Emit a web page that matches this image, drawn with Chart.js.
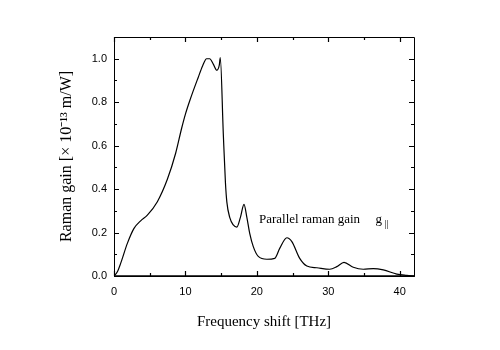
<!DOCTYPE html>
<html><head><meta charset="utf-8">
<script src="https://cdn.jsdelivr.net/npm/chart.js@4"></script>
<style>html,body{margin:0;padding:0;background:#fff}#wrap{width:500px;height:350px}</style>
</head><body><div id="wrap"><canvas id="c" width="500" height="350"></canvas></div>
<script>
const freqTHz = [0, 0.45, 0.93, 1.87, 2.8, 3.73, 4.67, 6.07, 7.47, 8.63, 9.47, 10.0, 10.64, 11.8, 12.4, 12.97, 13.4, 13.9, 14.4, 14.74, 14.88, 15.3, 15.6, 15.8, 16.2, 16.7, 17.2, 17.7, 18.2, 18.6, 19.0, 19.5, 20.2, 21.4, 22.5, 23.2, 24.2, 24.9, 26.0, 27.0, 28.4, 30.2, 31.2, 32.2, 33.5, 34.9, 36.3, 37.7, 39.6, 41, 42];
const ramanGain = [0, 0.018, 0.058, 0.15, 0.219, 0.254, 0.28, 0.342, 0.445, 0.565, 0.68, 0.745, 0.81, 0.915, 0.967, 1.0, 1.0, 0.975, 0.947, 0.97, 1.005, 0.656, 0.43, 0.34, 0.27, 0.235, 0.225, 0.27, 0.33, 0.27, 0.196, 0.135, 0.09, 0.077, 0.081, 0.127, 0.176, 0.158, 0.081, 0.046, 0.038, 0.031, 0.043, 0.063, 0.040, 0.031, 0.034, 0.028, 0.009, 0.003, 0];
const xTickValues = [0, 10, 20, 30, 40];
const yTickValues = [0.0, 0.2, 0.4, 0.6, 0.8, 1.0];
const xMinorValues = [5, 15, 25, 35];
const yMinorValues = [0.1, 0.3, 0.5, 0.7, 0.9];
const annotationText = "Parallel raman gain";
const annotationSymbol = "g";
const annotationSub = "||";

const points = freqTHz.map((x, i) => ({x, y: ramanGain[i]}));

const frameTicks = {
  id: 'frameTicks',
  afterDatasetsDraw(chart) {
    const {ctx, chartArea: a, scales: {x, y}} = chart;
    ctx.save();
    ctx.strokeStyle = '#000';
    ctx.lineWidth = 1;
    ctx.beginPath();
    ctx.rect(a.left + 0.5, a.top + 0.5, a.right - a.left, a.bottom - a.top);
    ctx.stroke();
    ctx.lineWidth = 1.6;
    ctx.beginPath();
    ctx.moveTo(a.left, a.bottom); ctx.lineTo(a.right + 1, a.bottom);
    ctx.stroke();
    ctx.lineWidth = 1.2;
    const tx = (v, len) => {
      const px = Math.round(x.getPixelForValue(v)) + 0.5;
      ctx.beginPath();
      ctx.moveTo(px, a.bottom); ctx.lineTo(px, a.bottom - len);
      ctx.moveTo(px, a.top); ctx.lineTo(px, a.top + len);
      ctx.stroke();
    };
    const ty = (v, len) => {
      const py = Math.round(y.getPixelForValue(v)) + 0.5;
      ctx.beginPath();
      ctx.moveTo(a.left, py); ctx.lineTo(a.left + len, py);
      ctx.moveTo(a.right, py); ctx.lineTo(a.right - len, py);
      ctx.stroke();
    };
    xTickValues.forEach(v => tx(v, 5));
    xMinorValues.forEach(v => tx(v, 3));
    yTickValues.forEach(v => ty(v, 5));
    yMinorValues.forEach(v => ty(v, 3));
    // annotation
    const ax = x.getPixelForValue(20.3), ay = y.getPixelForValue(0.258);
    ctx.fillStyle = '#000';
    ctx.textBaseline = 'middle';
    ctx.textAlign = 'left';
    ctx.font = '13px "Liberation Serif"';
    ctx.fillText(annotationText, ax, ay);
    const gx = x.getPixelForValue(36.6);
    ctx.fillText(annotationSymbol, gx, ay);
    ctx.font = '10px "Liberation Serif"';
    ctx.fillText(annotationSub, gx + 9, ay + 4);
    ctx.restore();
  }
};

new Chart(document.getElementById('c'), {
  type: 'line',
  data: {datasets: [{data: points, borderColor: '#000', borderWidth: 1.2, pointRadius: 0, cubicInterpolationMode: 'monotone', fill: false}]},
  options: {
    responsive: false, animation: false, devicePixelRatio: 1,
    layout: {padding: {top: 37, right: 86, left: 0, bottom: 0}},
    plugins: {legend: {display: false}, tooltip: {enabled: false}},
    scales: {
      x: {
        type: 'linear', min: 0, max: 42,
        afterBuildTicks: s => { s.ticks = xTickValues.map(v => ({value: v})); },
        afterFit: s => { s.height = 74; },
        grid: {display: false, drawTicks: false}, border: {display: false},
        ticks: {padding: 9, color: '#000', font: {family: '"Liberation Sans"', size: 11}, callback: v => String(v)},
        title: {display: true, text: 'Frequency shift [THz]', color: '#000', font: {family: '"Liberation Serif"', size: 15}, padding: {top: 0, bottom: 19}}
      },
      y: {
        type: 'linear', min: 0, max: 1.1,
        afterBuildTicks: s => { s.ticks = yTickValues.map(v => ({value: v})); },
        afterFit: s => { s.width = 114; },
        grid: {display: false, drawTicks: false}, border: {display: false},
        ticks: {padding: 7, color: '#000', font: {family: '"Liberation Sans"', size: 11}, callback: v => Number(v).toFixed(1)},
        title: {display: true, text: 'Raman gain [× 10⁻¹³ m/W]', color: '#000', font: {family: '"Liberation Serif"', size: 16}, padding: {top: 57, bottom: 0}}
      }
    }
  },
  plugins: [frameTicks]
});
</script></body></html>
